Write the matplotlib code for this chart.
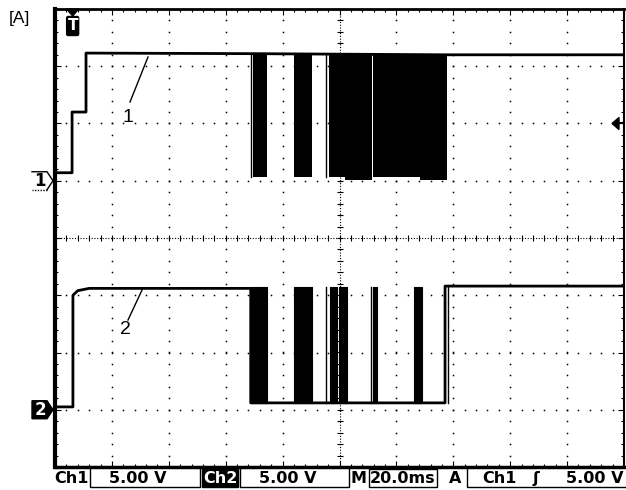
import numpy as np
import matplotlib.pyplot as plt
from matplotlib.patches import Polygon, FancyBboxPatch, Rectangle
from matplotlib.ticker import MultipleLocator

# time in ms (20 ms/div, 10 div), amplitude in volts (5 V/div)
ch1_t = [0, 6.0, 6.0, 10.9, 10.9, 68.8, 137.7, 200]
ch1_v = [0.7, 0.7, 6.0, 6.0, 11.15, 11.1, 11.0, 11.0]
# burst blocks: start, end, low level
ch1_bursts = [(69.5, 74.4, 0.3), (84.0, 90.2, 0.3), (96.3, 101.9, 0.3),
              (101.9, 111.4, 0.05), (111.8, 128.2, 0.35), (128.2, 137.7, 0.05)]
ch1_spikes = [68.8, 95.2]
ch1_low, ch1_top = 0.3, 11.0

ch2_t = [0, 6.3, 6.3, 8.0, 12.0, 68.8, 68.8, 137.1, 137.1, 200]
ch2_v = [0.25, 0.25, 10.0, 10.4, 10.6, 10.6, 0.6, 0.6, 10.8, 10.8]
ch2_bursts = [(68.8, 74.6), (84.1, 90.2), (96.7, 99.0), (99.8, 102.5),
              (111.8, 113.1), (126.2, 128.9)]
ch2_spikes = [95.2, 111.2, 138.0]
ch2_low, ch2_top = 0.6, 10.7

ch1_ground, ch2_ground = 1, -3   # divisions
volts_div = 5.0
trig_time, trig_level = 6.2, 5.0


def ch1(v):
    return np.asarray(v) / volts_div + ch1_ground


def ch2(v):
    return np.asarray(v) / volts_div + ch2_ground


fig = plt.figure(figsize=(6.26, 4.9), dpi=100)
W, H = 626, 490
ax = fig.add_axes([55 / W, 1 - 467 / H, 569 / W, 458 / H])
ax.set_xlim(0, 200)
ax.set_ylim(-4, 4)

# graticule
for gx in range(20, 200, 20):
    if gx == 100:
        continue
    ys = np.arange(-4, 4.01, 0.2)
    ax.plot([gx] * len(ys), ys, 's', ms=1.1, mew=0, color='black', zorder=1)
for gy in range(-3, 4):
    if gy == 0:
        continue
    xs = np.arange(0, 200.1, 4)
    ax.plot(xs, [gy] * len(xs), 's', ms=1.1, mew=0, color='black', zorder=1)
ax.axvline(100, ls=(0, (1, 1.5)), lw=0.8, color='black', zorder=1)
ax.axhline(0, ls=(0, (1, 1.5)), lw=0.8, color='black', zorder=1)
ys = np.arange(-4, 4.01, 0.2)
ax.plot([100] * len(ys), ys, '_', ms=5, mew=0.8, color='black', zorder=1)
xs = np.arange(0, 200.1, 4)
ax.plot(xs, [0] * len(xs), '|', ms=5, mew=0.8, color='black', zorder=1)

ax.xaxis.set_major_locator(MultipleLocator(20))
ax.xaxis.set_minor_locator(MultipleLocator(4))
ax.yaxis.set_major_locator(MultipleLocator(1))
ax.yaxis.set_minor_locator(MultipleLocator(0.2))
ax.tick_params(which='both', direction='in', top=True, right=True,
               labelbottom=False, labelleft=False, color='black', width=0.8)
ax.tick_params(which='major', length=4)
ax.tick_params(which='minor', length=2)
ax.spines['left'].set_linewidth(3)
ax.spines['bottom'].set_linewidth(2.5)
ax.spines['top'].set_linewidth(2)
ax.spines['right'].set_linewidth(1.5)

# channel 1
ax.plot(ch1_t, ch1(ch1_v), color='black', lw=2, zorder=3)
for t0, t1, lo in ch1_bursts:
    ax.fill_between([t0, t1], ch1(lo), ch1(ch1_top), color='black', lw=0, zorder=3)
for t in ch1_spikes:
    ax.plot([t, t], ch1([ch1_low, ch1_top]), color='black', lw=1, zorder=3)

# channel 2
ax.plot(ch2_t, ch2(ch2_v), color='black', lw=2, zorder=3)
for t0, t1 in ch2_bursts:
    ax.fill_between([t0, t1], ch2(ch2_low), ch2(ch2_top), color='black', lw=0.8, zorder=3)
for t in ch2_spikes:
    ax.plot([t, t], ch2([ch2_low, ch2_top]), color='black', lw=1, zorder=3)

# overlay in pixel coordinates for the scope decorations
ov = fig.add_axes([0, 0, 1, 1], facecolor='none')
ov.set_xlim(0, W)
ov.set_ylim(H, 0)
ov.axis('off')

to_px = ax.transData + ov.transData.inverted()
tx, _ = to_px.transform((trig_time, 0))
_, y1 = to_px.transform((0, ch1_ground))
_, y2 = to_px.transform((0, ch2_ground))
_, yl = to_px.transform((0, ch1(trig_level)))

# trigger position marker
ov.add_patch(Polygon([(tx - 6, 9), (tx + 6, 9), (tx, 16)], closed=True, color='black'))
ov.add_patch(FancyBboxPatch((tx - 4.5, 18), 9, 16, boxstyle='round,pad=1.5', color='black'))
ov.text(tx, 26, 'T', color='white', fontsize=11, fontweight='bold', ha='center', va='center')

# trigger level marker
ov.add_patch(Polygon([(612, yl), (619, yl - 6), (619, yl + 6)], closed=True, color='black'))
ov.plot([619, 624], [yl, yl], color='black', lw=1.5)

# ground markers
ov.plot([32, 47, 53, 47], [y1 - 9, y1 - 9, y1, y1 + 9], color='black', lw=1)
ov.plot([47, 32], [y1 + 9, y1 + 9], color='black', lw=1, ls=(0, (1, 1)))
ov.text(40, y1 + 0.5, '1', fontsize=12, fontweight='bold', ha='center', va='center')
ov.add_patch(Polygon([(32, y2 - 9), (47, y2 - 9), (53, y2), (47, y2 + 9), (32, y2 + 9)],
                     closed=True, color='black'))
ov.text(40, y2 + 0.5, '2', fontsize=12, fontweight='bold', ha='center', va='center', color='white')

# trace labels
ov.plot([130, 148], [102, 57], color='black', lw=1)
ov.text(128, 117, '1', fontsize=14, family='Liberation Sans', ha='center', va='center')
ov.plot([128, 143], [320, 288], color='black', lw=1)
ov.text(125, 329, '2', fontsize=14, family='Liberation Sans', ha='center', va='center')
ov.text(9, 18, '[A]', fontsize=12.5, family='Liberation Sans', ha='left', va='center')

# status bar
sb = dict(fontsize=11.5, fontweight='bold', va='center')
yt = 478
ov.text(54, yt, 'Ch1', ha='left', **sb)
ov.plot([90, 90, 200, 200], [468, 487, 487, 468], color='black', lw=1)
ov.text(138, yt, '5.00 V', ha='center', **sb)
ov.add_patch(Rectangle((202, 469), 36, 18, color='black'))
ov.text(220, yt, 'Ch2', ha='center', color='white', **sb)
ov.plot([240, 240, 349, 349], [468, 487, 487, 468], color='black', lw=1)
ov.text(288, yt, '5.00 V', ha='center', **sb)
ov.text(359, yt, 'M', ha='center', **sb)
ov.add_patch(Rectangle((369, 469), 68, 18, fill=False, ec='black', lw=1))
ov.text(403, yt, '20.0ms', ha='center', **sb)
ov.text(455, yt, 'A', ha='center', **sb)
ov.plot([467, 467, 626], [468, 487, 487], color='black', lw=1)
ov.text(499, yt, 'Ch1', ha='center', **sb)
ov.text(536, yt, 'ʃ', ha='center', **sb)
ov.text(624, yt, '5.00 V', ha='right', **sb)

fig.savefig('out.png', dpi=100)
